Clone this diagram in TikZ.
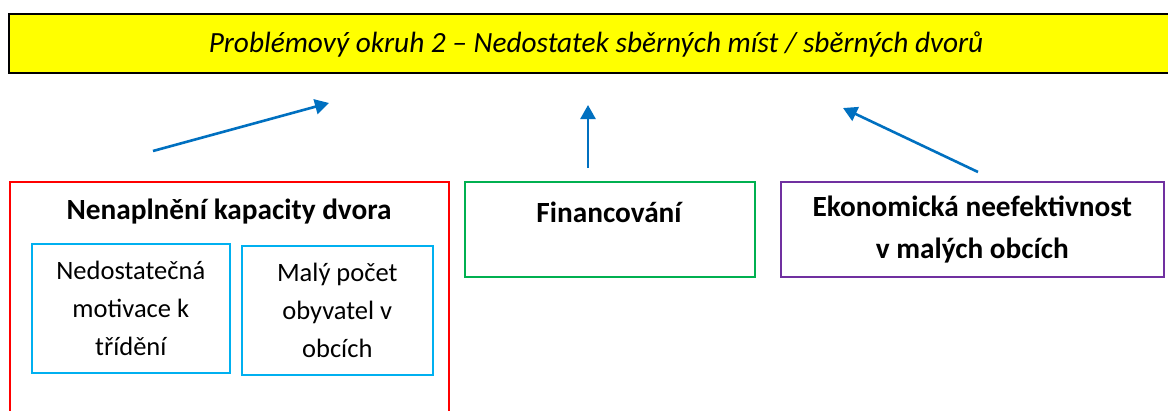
\documentclass[tikz,border=0pt]{standalone}
\usepackage{fontspec}
\setmainfont{Carlito}
\usetikzlibrary{arrows.meta}
\definecolor{okruhYellow}{HTML}{FFFF00}
\definecolor{okruhRed}{HTML}{FF0000}
\definecolor{okruhGreen}{HTML}{00B050}
\definecolor{okruhPurple}{HTML}{7030A0}
\definecolor{okruhCyan}{HTML}{00B0F0}
\definecolor{okruhArrow}{HTML}{0070C0}
\tikzset{
  okruhbox/.style={draw, rectangle, inner sep=0pt, line width=1.6pt},
  okruhtext/.style={align=center, inner sep=0pt, font=\fontsize{26.5}{38}\selectfont},
  okruhbold/.style={align=center, inner sep=0pt, font=\bfseries\fontsize{29.3}{42}\selectfont},
  okruharrow/.style={draw=okruhArrow, line width=2.6pt, -{Triangle[length=14pt,width=15pt]}}
}
\begin{document}
\begin{tikzpicture}[x=1pt, y=-1pt]
\useasboundingbox (0,0) rectangle (1168,410);
% Problem area header
\node[okruhbox, fill=okruhYellow, line width=2.2pt, minimum width=1178pt, minimum height=59pt, anchor=north west] (okruh) at (8,13) {};
\node[inner sep=0pt, font=\itshape\fontsize{29.3}{34}\selectfont] (okruhlabel) at (596,44) {Problémový okruh 2 – Nedostatek sběrných míst / sběrných dvorů};
% Cause boxes
\node[okruhbox, draw=okruhRed, minimum width=439pt, minimum height=250pt, anchor=north west] (kapacita) at (9,181) {};
\node[okruhbold] (kapacitalabel) at (229,212) {Nenaplnění kapacity dvora};
\node[okruhbox, draw=okruhCyan, minimum width=198pt, minimum height=129pt, anchor=north west] (motivace) at (31,243) {};
\node[okruhtext] (motivacelabel) at (motivace.center) {Nedostatečná\\motivace k\\třídění};
\node[okruhbox, draw=okruhCyan, minimum width=191pt, minimum height=129pt, anchor=north west] (pocet) at (241,245) {};
\node[okruhtext] (pocetlabel) at (pocet.center) {Malý počet\\obyvatel v\\obcích};
\node[okruhbox, draw=okruhGreen, minimum width=290pt, minimum height=95pt, anchor=north west] (financovani) at (464,181) {};
\node[okruhbold] (financovanilabel) at (609,212) {Financování};
\node[okruhbox, draw=okruhPurple, minimum width=383pt, minimum height=95pt, anchor=north west] (ekonomika) at (780,181) {};
\node[okruhbold] (ekonomikalabel) at (ekonomika.center) {Ekonomická neefektivnost\\v malých obcích};
% Arrow ends
\coordinate (kapacitaout) at (153,151);
\coordinate (kapacitain) at (329,103);
\coordinate (financovaniout) at (588,168);
\coordinate (financovaniin) at (588,105);
\coordinate (ekonomikaout) at (978,172);
\coordinate (ekonomikain) at (843,108);
\draw[okruharrow] (kapacitaout) -- (kapacitain);
\draw[okruharrow] (financovaniout) -- (financovaniin);
\draw[okruharrow] (ekonomikaout) -- (ekonomikain);
\end{tikzpicture}
\end{document}
